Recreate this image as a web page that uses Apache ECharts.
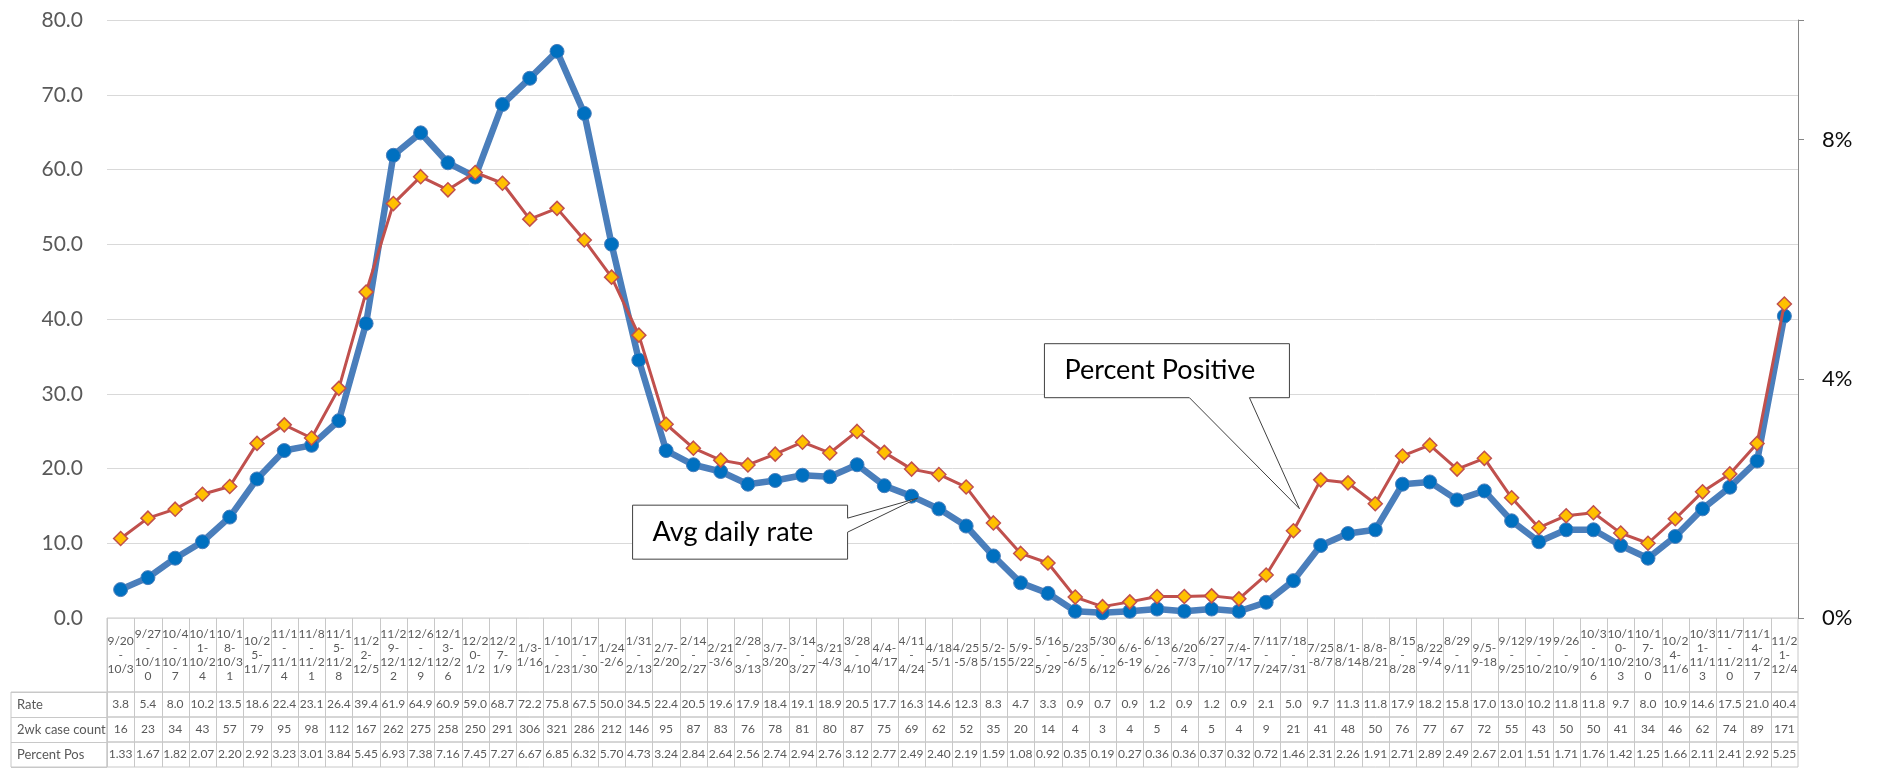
<!DOCTYPE html>
<html><head><meta charset="utf-8">
<script src="https://cdn.jsdelivr.net/npm/echarts/dist/echarts.min.js"></script>
<style>html,body{margin:0;padding:0;background:#fff;}#c{width:1877px;height:777px;}</style>
</head><body><div id="c"></div>
<script>
// ---- data ----
const categories = [
 '9/20\n-\n10/3','9/27\n-\n10/1\n0','10/4\n-\n10/1\n7','10/1\n1-\n10/2\n4','10/1\n8-\n10/3\n1','10/2\n5-\n11/7',
 '11/1\n-\n11/1\n4','11/8\n-\n11/2\n1','11/1\n5-\n11/2\n8','11/2\n2-\n12/5','11/2\n9-\n12/1\n2','12/6\n-\n12/1\n9',
 '12/1\n3-\n12/2\n6','12/2\n0-\n1/2','12/2\n7-\n1/9','1/3-\n1/16','1/10\n-\n1/23','1/17\n-\n1/30','1/24\n-2/6',
 '1/31\n-\n2/13','2/7-\n2/20','2/14\n-\n2/27','2/21\n-3/6','2/28\n-\n3/13','3/7-\n3/20','3/14\n-\n3/27','3/21\n-4/3',
 '3/28\n-\n4/10','4/4-\n4/17','4/11\n-\n4/24','4/18\n-5/1','4/25\n-5/8','5/2-\n5/15','5/9-\n5/22','5/16\n-\n5/29',
 '5/23\n-6/5','5/30\n-\n6/12','6/6-\n6-19','6/13\n-\n6/26','6/20\n-7/3','6/27\n-\n7/10','7/4-\n7/17','7/11\n-\n7/24',
 '7/18\n-\n7/31','7/25\n-8/7','8/1-\n8/14','8/8-\n8/21','8/15\n-\n8/28','8/22\n-9/4','8/29\n-\n9/11','9/5-\n9-18',
 '9/12\n-\n9/25','9/19\n-\n10/2','9/26\n-\n10/9','10/3\n-\n10/1\n6','10/1\n0-\n10/2\n3','10/1\n7-\n10/3\n0',
 '10/2\n4-\n11/6','10/3\n1-\n11/1\n3','11/7\n-\n11/2\n0','11/1\n4-\n11/2\n7','11/2\n1-\n12/4'
];
const rates = [3.8,5.4,8.0,10.2,13.5,18.6,22.4,23.1,26.4,39.4,61.9,64.9,60.9,
 59.0,68.7,72.2,75.8,67.5,50.0,34.5,22.4,20.5,19.6,17.9,18.4,19.1,18.9,20.5,17.7,16.3,
 14.6,12.3,8.3,4.7,3.3,0.9,0.7,0.9,1.2,0.9,1.2,0.9,2.1,5.0,9.7,11.3,11.8,
 17.9,18.2,15.8,17.0,13.0,10.2,11.8,11.8,9.7,8.0,10.9,14.6,17.5,21.0,40.4];
const caseCounts = [16,23,34,43,57,79,95,98,112,167,262,275,258,
 250,291,306,321,286,212,146,95,87,83,76,78,81,80,87,75,69,
 62,52,35,20,14,4,3,4,5,4,5,4,9,21,41,48,50,
 76,77,67,72,55,43,50,50,41,34,46,62,74,89,171];
const percentPos = [1.33,1.67,1.82,2.07,2.20,2.92,3.23,3.01,3.84,5.45,6.93,7.38,7.16,
 7.45,7.27,6.67,6.85,6.32,5.70,4.73,3.24,2.84,2.64,2.56,2.74,2.94,2.76,3.12,2.77,2.49,
 2.40,2.19,1.59,1.08,0.92,0.35,0.19,0.27,0.36,0.36,0.37,0.32,0.72,1.46,2.31,2.26,1.91,
 2.71,2.89,2.49,2.67,2.01,1.51,1.71,1.76,1.42,1.25,1.66,2.11,2.41,2.92,5.25];
const rowLabels = ['Rate','2wk case count','Percent Pos'];
const calloutRate = {text:'Avg daily rate', index:29};
const calloutPct = {text:'Percent Positive', index:43};

// ---- chart ----
const FONT = 'Lato';
const L = 107, R = 79;
const TABLE_H = 149;
const CELL = '#c8c8c8';
const chart = echarts.init(document.getElementById('c'));
const gridBase = {outerBoundsMode:'none', containLabel:false};
const tableX = (gi, fmt, margin) => ({
  type:'category', gridIndex:gi, data:categories, boundaryGap:true, position:'bottom',
  axisLine:{show:false}, axisTick:{show:false}, splitLine:{show:false},
  axisLabel:{show:true, interval:0, inside:true, margin:margin, verticalAlign:'middle', align:'center',
    color:'#595959', fontFamily:FONT, fontSize:12, lineHeight:14, hideOverlap:false, formatter:fmt}
});
const hiddenY = gi => ({type:'value', gridIndex:gi, show:false, min:0, max:1});
const tableGrid = (top, h) => Object.assign({left:L, right:R, top:top, height:h, show:true,
  borderColor:CELL, borderWidth:1}, gridBase);
chart.setOption({
  animation:false,
  backgroundColor:'#fff',
  grid:[
    Object.assign({left:L, right:R, top:20, bottom:159, show:false}, gridBase),
    tableGrid(618, 74), tableGrid(692, 25), tableGrid(717, 25), tableGrid(742, 25),
    Object.assign({left:11, width:L-11, top:692, height:75, show:true, borderColor:CELL, borderWidth:1}, gridBase)
  ],
  xAxis:[
    {type:'category', gridIndex:0, data:categories, boundaryGap:true, axisLine:{show:false}, axisTick:{show:false}, axisLabel:{show:false}, splitLine:{show:false}},
    tableX(1, v => v, 37),
    tableX(2, (v,i) => rates[i].toFixed(1), 12.5),
    tableX(3, (v,i) => String(caseCounts[i]), 12.5),
    tableX(4, (v,i) => percentPos[i].toFixed(2), 12.5),
    {type:'value', gridIndex:5, show:false, min:0, max:1}
  ],
  yAxis:[
    {type:'value', gridIndex:0, min:0, max:80, interval:10, position:'left',
     axisLine:{show:false}, axisTick:{show:false},
     splitLine:{show:true, lineStyle:{color:'#d9d9d9', width:1}},
     axisLabel:{formatter:v => v.toFixed(1), color:'#595959', fontFamily:FONT, fontSize:21, margin:24}},
    {type:'value', gridIndex:0, min:0, max:10, interval:4, position:'right',
     axisLine:{show:true, lineStyle:{color:'#868686', width:1}},
     axisTick:{show:true, length:6, lineStyle:{color:'#868686'}},
     splitLine:{show:false},
     axisLabel:{formatter:v => (v % 4 === 0 ? v + '%' : ''), color:'#0d0d0d', fontFamily:FONT, fontSize:22, margin:24}},
    hiddenY(1), hiddenY(2), hiddenY(3), hiddenY(4),
    {type:'category', gridIndex:5, data:rowLabels, inverse:true, boundaryGap:true,
     axisLine:{show:false}, axisTick:{show:false},
     splitLine:{show:true, interval:0, lineStyle:{color:CELL, width:1}},
     axisLabel:{inside:true, margin:6, align:'left', verticalAlign:'middle', color:'#595959', fontFamily:FONT, fontSize:13}}
  ],
  series:[
    {type:'line', name:'Avg daily rate', xAxisIndex:0, yAxisIndex:0, data:rates, z:2,
     symbol:'circle', symbolSize:14, showAllSymbol:true,
     lineStyle:{color:'#4a7ebb', width:6.5}, itemStyle:{color:'#0070c0', borderColor:'#4a7ebb', borderWidth:1}},
    {type:'line', name:'Percent Pos', xAxisIndex:0, yAxisIndex:1, data:percentPos, z:3,
     symbol:'diamond', symbolSize:14, showAllSymbol:true,
     lineStyle:{color:'#c0504d', width:3}, itemStyle:{color:'#ffc000', borderColor:'#c0504d', borderWidth:1.5}}
  ]
});

// ---- table column separators, positioned through the category scale ----
const c0 = chart.convertToPixel({xAxisIndex:0}, 0);
const c1 = chart.convertToPixel({xAxisIndex:0}, 1);
const band = c1 - c0;
const yZero = chart.convertToPixel({yAxisIndex:0}, 0);
const colLines = categories.map((c, i) => {
  const x = Math.round(chart.convertToPixel({xAxisIndex:0}, i) - band / 2) + 0.5;
  return {type:'line', z:50, silent:true, shape:{x1:x, y1:yZero, x2:x, y2:yZero + TABLE_H},
          style:{stroke:CELL, lineWidth:1}};
});

// ---- callouts anchored to data points ----
const p1 = chart.convertToPixel({seriesIndex:0}, [calloutRate.index, rates[calloutRate.index]]);
const p2 = chart.convertToPixel({seriesIndex:1}, [calloutPct.index, percentPos[calloutPct.index]]);
const t1 = [p1[0] + 6, p1[1] + 2];
const b1 = {l:t1[0] - 285, r:t1[0] - 70, t:t1[1] + 7, b:t1[1] + 61};
const t2 = [p2[0] + 6, p2[1] - 22];
const b2 = {l:t2[0] - 255, r:t2[0] - 10, t:t2[1] - 165, b:t2[1] - 111};
const boxStyle = {fill:'#fff', stroke:'#404040', lineWidth:1};
chart.setOption({graphic: colLines.concat([
  {type:'polygon', z:100, silent:true, shape:{points:[
    [b1.l,b1.t],[b1.r,b1.t],[b1.r,b1.t+13],t1,[b1.r,b1.t+27],[b1.r,b1.b],[b1.l,b1.b]]}, style:boxStyle},
  {type:'text', z:101, silent:true, style:{text:calloutRate.text, x:b1.l + 20, y:(b1.t + b1.b)/2,
    fontFamily:FONT, fontSize:27, fill:'#000', verticalAlign:'middle'}},
  {type:'polygon', z:100, silent:true, shape:{points:[
    [b2.l,b2.t],[b2.r,b2.t],[b2.r,b2.b],[b2.l+205,b2.b],t2,[b2.l+145,b2.b],[b2.l,b2.b]]}, style:boxStyle},
  {type:'text', z:101, silent:true, style:{text:calloutPct.text, x:b2.l + 20, y:(b2.t + b2.b)/2,
    fontFamily:FONT, fontSize:27, fill:'#000', verticalAlign:'middle'}}
])});
</script></body></html>
